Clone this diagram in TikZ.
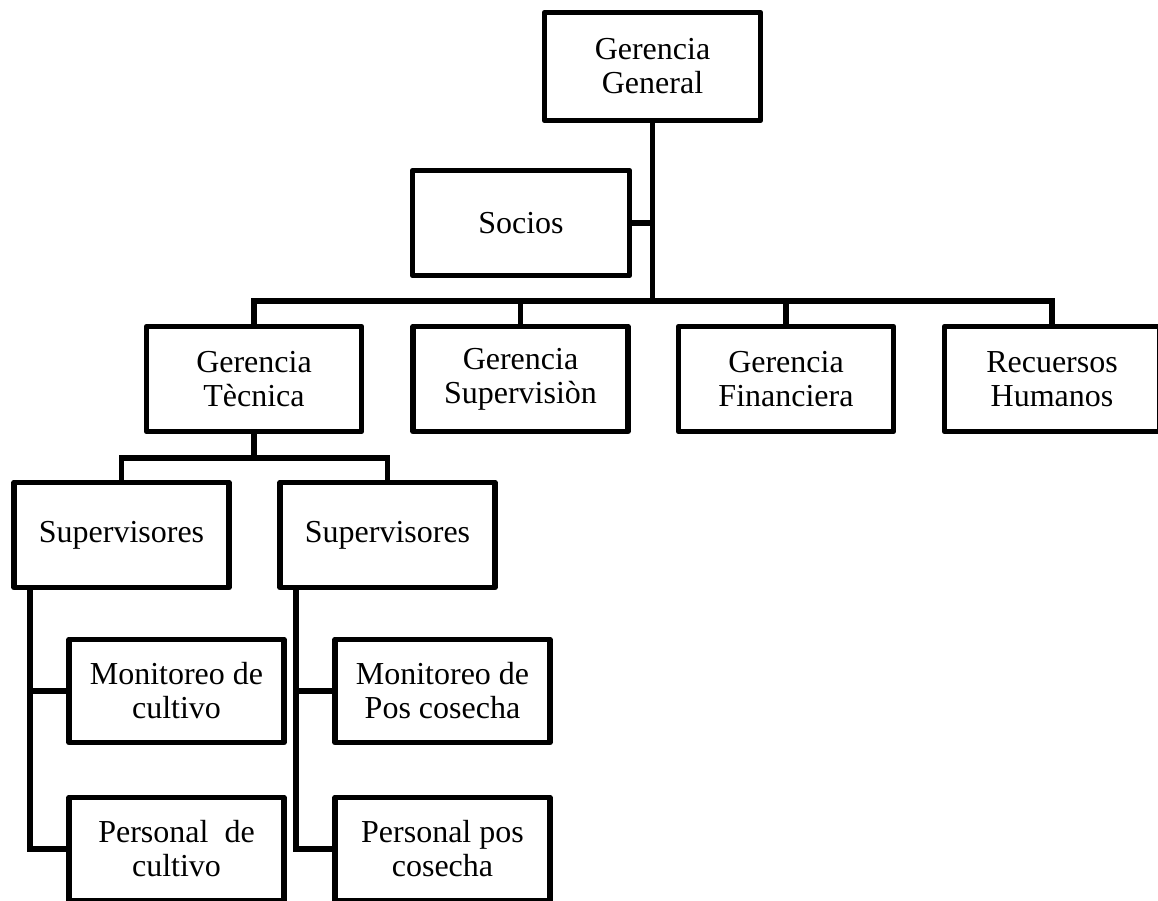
\documentclass[tikz,border=0pt]{standalone}
\usepackage{fontspec}
\setmainfont{Liberation Serif}
\begin{document}
\begin{tikzpicture}[x=1pt,y=-1pt,
  box/.style={draw=black, line width=5.5pt, line join=round, fill=white,
    minimum width=215pt, minimum height=105pt, inner sep=0pt,
    align=center, font=\fontsize{32}{34}\selectfont},
  link/.style={draw=black, line width=5.5pt}]
\useasboundingbox (0,0) rectangle (1158,901);
\clip (0,0) rectangle (1158,901);
% nodes
\node[box, minimum width=216pt, minimum height=108pt] (GG) at (652.5,66.5) {Gerencia\\General};
\node[box, minimum width=217pt] (So) at (521,223) {Socios};
\node[box] (GT) at (254,379) {Gerencia\\Tècnica};
\node[box] (GS) at (520.5,379) {Gerencia\\Supervisiòn};
\node[box] (GF) at (786,379) {Gerencia\\Financiera};
\node[box] (RH) at (1052,379) {Recuersos\\Humanos};
\node[box] (S1) at (121.5,535) {Supervisores};
\node[box] (S2) at (387.5,535) {Supervisores};
\node[box, minimum height=103pt] (M1) at (176.5,691) {Monitoreo de\\cultivo};
\node[box, minimum height=103pt] (M2) at (442.5,691) {Monitoreo de\\Pos cosecha};
\node[box, minimum height=103pt] (P1) at (176.5,849) {Personal~ de\\cultivo};
\node[box, minimum height=103pt] (P2) at (442.5,849) {Personal pos\\cosecha};
% junction coordinates
\coordinate (bus) at (0,301);
\coordinate (sub) at (0,458);
\coordinate (v1) at ([xshift=18.5pt]S1.south west);
\coordinate (v2) at ([xshift=18.5pt]S2.south west);
% connectors
\draw[link] (GG.south) -- (GG.south |- bus);
\draw[link] (So.east) -- (So.east -| GG.south);
\draw[link] (GT.north) -- (GT.north |- bus) -- (RH.north |- bus) -- (RH.north);
\draw[link] (GS.north) -- (GS.north |- bus);
\draw[link] (GF.north) -- (GF.north |- bus);
\draw[link] (GT.south) -- (GT.south |- sub);
\draw[link] (S1.north) -- (S1.north |- sub) -- (S2.north |- sub) -- (S2.north);
\draw[link] (v1) |- (P1.west);
\draw[link] (v1 |- M1.west) -- (M1.west);
\draw[link] (v2) |- (P2.west);
\draw[link] (v2 |- M2.west) -- (M2.west);
\end{tikzpicture}
\end{document}
